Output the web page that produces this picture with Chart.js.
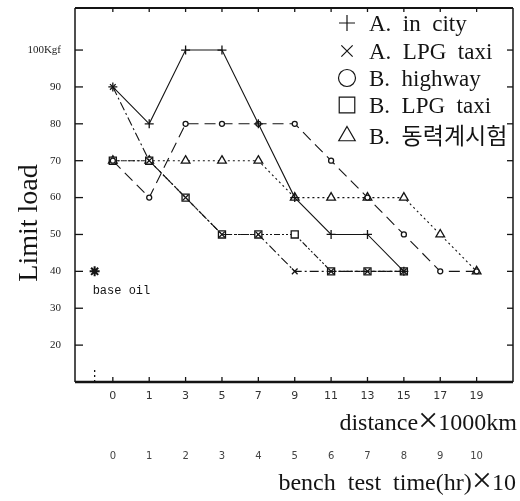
<!DOCTYPE html>
<html><head><meta charset="utf-8">
<script src="https://cdn.jsdelivr.net/npm/chart.js@4"></script>
<style>html,body{margin:0;padding:0;background:#fff;} #wrap{width:520px;height:501px;position:relative;}</style>
</head><body><div id="wrap"><canvas id="c" width="520" height="501"></canvas></div>
<script>
// ---- data ----
const distanceLabels = ['0','1','3','5','7','9','11','13','15','17','19'];
const benchLabels = ['0','1','2','3','4','5','6','7','8','9','10'];
const seriesNames = ['A.  in  city','A.  LPG  taxi','B.  highway','B.  LPG  taxi','B.  동력계시험'];
const aInCity  = [90,80,100,100,80,60,50,50,40];
const aLpgTaxi = [90,70,60,50,50,40,40,40,40];
const bHighway = [70,60,80,80,80,80,70,60,50,40,40];
const bLpgTaxi = [70,70,60,50,50,50,40,40,40];
const bDyno    = [70,70,70,70,70,60,60,60,60,50,40];
const baseOilValue = 40;
const baseOilIndex = -0.5;
const baseOilLabel = 'base oil';
const yTicks = [20,30,40,50,60,70,80,90,100];
const yLabels = ['20','30','40','50','60','70','80','90','100Kgf'];
const yTitle = 'Limit load';
const xTitleParts = ['distance', '\u00d7', '1000km'];
const x2TitleParts = ['bench  test  time(hr)', '\u00d7', '10'];

// ---- styles ----
const INK = '#141414';
const styles = [
  {dash: [], point: 'cross', r: 4.5},
  {dash: [9,3,2,3], point: 'crossRot', r: 4},
  {dash: [11,6], point: 'circle', r: 2.5},
  {dash: [6,2,2,2,2,2], point: 'rect', r: 5},
  {dash: [2,3], point: 'triangle', r: 5}
];
const seriesValues = [aInCity, aLpgTaxi, bHighway, bLpgTaxi, bDyno];

const datasets = seriesValues.map((vals, k) => ({
  label: seriesNames[k],
  data: vals.map((v, i) => ({x: i, y: v})),
  borderColor: INK,
  borderWidth: 1.1,
  borderDash: styles[k].dash,
  pointStyle: styles[k].point,
  pointRadius: styles[k].r,
  pointBorderColor: INK,
  pointBackgroundColor: '#fff',
  pointBorderWidth: 1.3,
  fill: false,
  tension: 0
}));
datasets.push({
  label: baseOilLabel,
  data: [{x: baseOilIndex, y: baseOilValue}],
  showLine: false,
  pointStyle: 'star',
  pointRadius: 5,
  pointBorderColor: INK,
  pointBorderWidth: 2
});

const XMIN = -1.04, XMAX = 11.0;

function drawParts(ctx, parts, rightX, baseline) {
  const fonts = ['24px "Liberation Serif", serif', '36px "Liberation Serif", serif', '24px "Liberation Serif", serif'];
  const widths = parts.map((p, i) => { ctx.font = fonts[i]; return ctx.measureText(p).width; });
  let x = rightX - widths.reduce((s, w) => s + w, 0);
  ctx.textAlign = 'left'; ctx.textBaseline = 'alphabetic';
  parts.forEach((p, i) => {
    ctx.font = fonts[i];
    ctx.fillText(p, x, baseline + (i === 1 ? 2 : 0));
    x += widths[i];
  });
}

const decor = {
  id: 'decor',
  afterDatasetsDraw(chart) {
    const {ctx, chartArea: a, scales} = chart;
    const x = scales.x, y = scales.y;
    ctx.save();
    ctx.strokeStyle = INK;
    ctx.setLineDash([]);
    // frame
    ctx.lineWidth = 1.5;
    ctx.beginPath(); ctx.moveTo(a.left, a.top); ctx.lineTo(a.left, a.bottom); ctx.stroke();
    ctx.beginPath(); ctx.moveTo(a.right, a.top); ctx.lineTo(a.right, a.bottom); ctx.stroke();
    ctx.lineWidth = 2.5;
    ctx.beginPath(); ctx.moveTo(a.left, a.bottom); ctx.lineTo(a.right, a.bottom); ctx.stroke();
    ctx.lineWidth = 2;
    ctx.beginPath(); ctx.moveTo(a.left, a.top); ctx.lineTo(a.right, a.top); ctx.stroke();
    // inward ticks
    ctx.lineWidth = 1.3;
    yTicks.forEach(v => {
      const py = y.getPixelForValue(v);
      ctx.beginPath(); ctx.moveTo(a.left, py); ctx.lineTo(a.left + 8, py); ctx.stroke();
      ctx.beginPath(); ctx.moveTo(a.right, py); ctx.lineTo(a.right - 6, py); ctx.stroke();
    });
    distanceLabels.forEach((l, i) => {
      const px = x.getPixelForValue(i);
      ctx.beginPath(); ctx.moveTo(px, a.bottom); ctx.lineTo(px, a.bottom - 5); ctx.stroke();
      ctx.beginPath(); ctx.moveTo(px, a.top); ctx.lineTo(px, a.top + 4); ctx.stroke();
    });
    const bx = x.getPixelForValue(baseOilIndex);
    ctx.setLineDash([2,3]);
    ctx.beginPath(); ctx.moveTo(bx, a.bottom); ctx.lineTo(bx, a.bottom - 12); ctx.stroke();
    ctx.setLineDash([]);

    // base oil label
    ctx.fillStyle = INK;
    ctx.font = '12px "Liberation Mono", "DejaVu Sans Mono", monospace';
    ctx.textAlign = 'left'; ctx.textBaseline = 'middle';
    ctx.fillText(baseOilLabel, bx - 2, y.getPixelForValue(baseOilValue) + 19);

    // axis titles
    ctx.font = '28px "Liberation Serif", serif';
    ctx.save();
    ctx.translate(37, 223);
    ctx.rotate(-Math.PI / 2);
    ctx.textAlign = 'center'; ctx.textBaseline = 'alphabetic';
    ctx.fillText(yTitle, 0, 0);
    ctx.restore();
    drawParts(ctx, xTitleParts, 517, 430);
    drawParts(ctx, x2TitleParts, 516, 490);

    // legend
    const rows = [23, 51, 78, 105, 136];
    const legendStyles = [
      {pointStyle: 'cross', radius: 8},
      {pointStyle: 'crossRot', radius: 8},
      {pointStyle: 'circle', radius: 8.5},
      {pointStyle: 'rect', radius: 11},
      {pointStyle: 'triangle', radius: 9.5}
    ];
    ctx.lineWidth = 1.2;
    rows.forEach((cy, k) => {
      ctx.fillStyle = '#fff';
      ctx.strokeStyle = INK;
      Chart.helpers.drawPoint(ctx, {pointStyle: legendStyles[k].pointStyle, radius: legendStyles[k].radius, rotation: 0, borderWidth: 1.2}, 347, cy);
      ctx.fillStyle = INK;
      ctx.font = '23px "Liberation Serif", "Noto Sans CJK KR", serif';
      ctx.textAlign = 'left'; ctx.textBaseline = 'alphabetic';
      ctx.fillText(seriesNames[k], 369, cy + 8);
    });
    ctx.restore();
  }
};

new Chart(document.getElementById('c'), {
  type: 'line',
  data: {datasets},
  options: {
    responsive: false,
    animation: false,
    layout: {padding: {top: 8, right: 1, left: 0, bottom: 0}},
    plugins: {legend: {display: false}, tooltip: {enabled: false}},
    scales: {
      x: {
        type: 'linear', position: 'bottom', min: XMIN, max: XMAX,
        afterBuildTicks(s) { s.ticks = distanceLabels.map((l, i) => ({value: i})); },
        afterFit(s) { s.height = 30; s.paddingLeft = 0; s.paddingRight = 0; },
        ticks: {callback: (v) => distanceLabels[v], autoSkip: false, maxRotation: 0,
                font: {size: 11, family: '"DejaVu Sans", sans-serif'}, color: '#333', padding: 8},
        grid: {display: false, drawTicks: false}, border: {display: false}
      },
      x2: {
        type: 'linear', position: 'bottom', min: XMIN, max: XMAX,
        afterBuildTicks(s) { s.ticks = benchLabels.map((l, i) => ({value: i})); },
        afterFit(s) { s.height = 89; s.paddingLeft = 0; s.paddingRight = 0; },
        ticks: {callback: (v) => benchLabels[v], autoSkip: false, maxRotation: 0,
                font: {size: 10, family: '"DejaVu Sans", sans-serif'}, color: '#444', padding: 38},
        grid: {display: false, drawTicks: false}, border: {display: false}
      },
      y: {
        type: 'linear', position: 'left', min: 10, max: 111.4,
        afterBuildTicks(s) { s.ticks = yTicks.map(v => ({value: v})); },
        afterFit(s) { s.width = 75; s.paddingTop = 0; s.paddingBottom = 0; },
        ticks: {callback: (v) => yLabels[yTicks.indexOf(v)], font: {size: 11, family: '"Liberation Serif", serif'}, color: '#222', padding: 14},
        grid: {display: false, drawTicks: false}, border: {display: false}
      }
    }
  },
  plugins: [decor]
});
</script>
</body></html>
